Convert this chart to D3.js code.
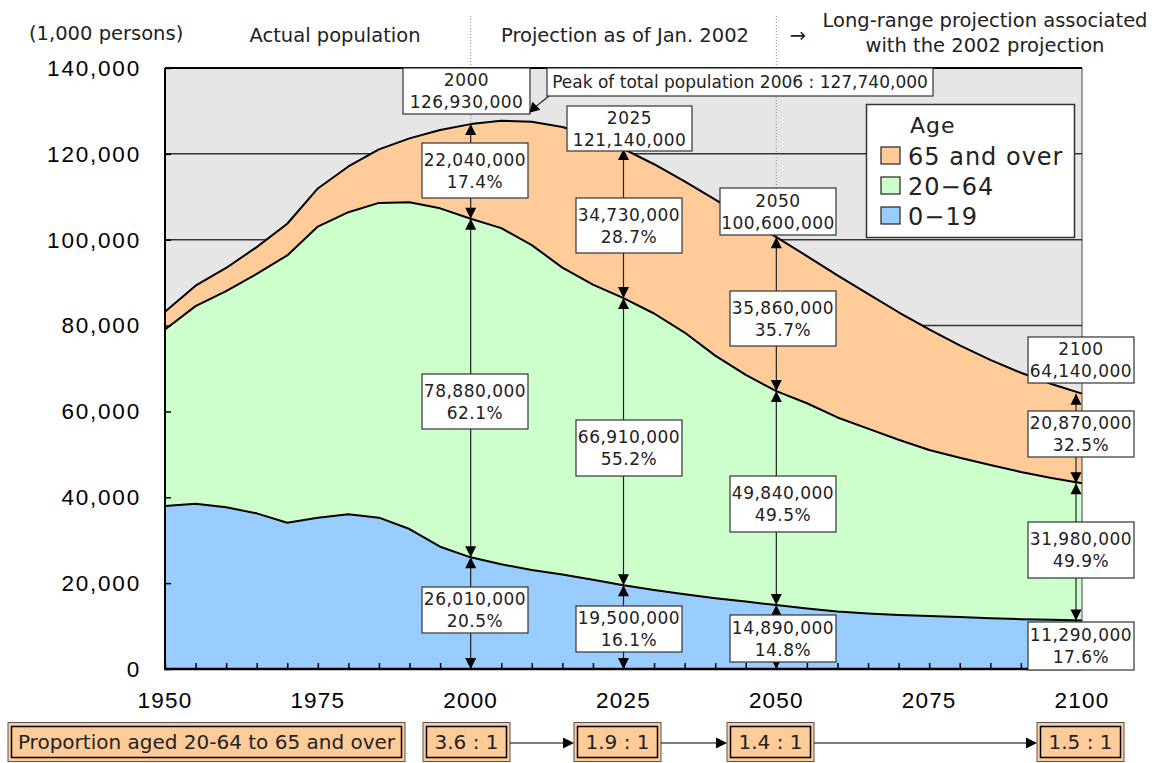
<!DOCTYPE html>
<html><head><meta charset="utf-8">
<script src="https://cdn.jsdelivr.net/npm/d3@7/dist/d3.min.js"></script>
<style>
html,body{margin:0;padding:0;background:#fff;}
svg{display:block;}
text{font-family:"DejaVu Sans",sans-serif;fill:#222;}
.tick-label{font-family:"Liberation Sans",Arial,sans-serif;fill:#000;}
</style></head><body>
<svg id="chart" width="1154" height="763"></svg>
<script>
// Population of Japan by age group, thousands of persons
const years = [1950,1955,1960,1965,1970,1975,1980,1985,1990,1995,2000,2005,2010,2015,2020,2025,
  2030,2035,2040,2045,2050,2055,2060,2065,2070,2075,2080,2085,2090,2095,2100];
const age0to19 = [37970,38510,37660,36260,34080,35250,36030,35250,32610,28490,26010,24390,23060,22000,20800,19500,
  18400,17400,16500,15700,14890,14100,13400,12950,12600,12350,12100,11850,11600,11450,11290];
const age20to64 = [41120,46020,50360,55780,62250,67820,70380,73330,76100,78820,78880,78310,75680,71490,68750,66910,
  64410,60970,56510,52800,49840,47800,45200,43050,40800,38650,37100,35650,34300,33050,31980];
const age65plus = [4110,4750,5400,6240,7390,8870,10650,12470,14900,18260,22040,25010,28740,32770,34560,34730,
  34770,35240,36330,36460,35860,34300,33100,31400,29700,28100,26200,24500,23100,21900,20870];

// Highlighted years with their published totals and shares (%)
const markYears = [2000, 2025, 2050, 2100];
const markTotals = [126930, 121140, 100600, 64140];
const share65 = [17.4, 28.7, 35.7, 32.5];
const share20to64 = [62.1, 55.2, 49.5, 49.9];
const share0to19 = [20.5, 16.1, 14.8, 17.6];
const peakYear = 2006, peakTotal = 127740;

const yTicks = [0,20000,40000,60000,80000,100000,120000,140000];
const xLabelYears = [1950,1975,2000,2025,2050,2075,2100];
const seriesKeys = ["a0", "a1", "a2"];
const seriesNames = ["0\u221219", "20\u221264", "65 and over"];
const seriesColors = ["#99ccff", "#ccffcc", "#ffcc99"];

const rows = years.map((yr, i) => ({year: yr, a0: age0to19[i], a1: age20to64[i], a2: age65plus[i]}));

const svg = d3.select("#chart");
const x = d3.scaleLinear().domain([1950, 2100]).range([165, 1082]);
const y = d3.scaleLinear().domain([0, 140000]).range([669, 68]);
const fmt = d3.format(",");

// plot background
svg.append("rect").attr("x", x(1950)).attr("y", y(140000))
  .attr("width", x(2100) - x(1950)).attr("height", y(0) - y(140000)).attr("fill", "#e6e6e6");

// gridlines
svg.append("g").selectAll("line").data(yTicks.slice(1, -1)).join("line")
  .attr("x1", x(1950)).attr("x2", x(2100)).attr("y1", d => y(d)).attr("y2", d => y(d))
  .attr("stroke", "#333").attr("stroke-width", 1.5);

// period separators
svg.append("g").selectAll("line").data([2000, 2050]).join("line")
  .attr("x1", d => x(d)).attr("x2", d => x(d)).attr("y1", 16).attr("y2", y(0))
  .attr("stroke", "#888").attr("stroke-width", 1).attr("stroke-dasharray", "1,2");

// stacked areas
const stacked = d3.stack().keys(seriesKeys)(rows);
const area = d3.area().x(d => x(d.data.year)).y0(d => y(d[0])).y1(d => y(d[1]));
const topLine = d3.line().x(d => x(d.data.year)).y(d => y(d[1]));
svg.append("g").selectAll("path").data(stacked).join("path")
  .attr("d", area).attr("fill", (d, i) => seriesColors[i]);
svg.append("g").selectAll("path").data(stacked).join("path")
  .attr("d", topLine).attr("fill", "none").attr("stroke", "#000").attr("stroke-width", 2)
  .attr("stroke-linejoin", "round");

// axes (ticks pointing inward)
const yAxis = d3.axisRight(y).tickValues(yTicks).tickSize(6).tickFormat("");
svg.append("g").attr("transform", `translate(${x(1950)},0)`).call(yAxis)
  .call(g => g.select(".domain").remove())
  .call(g => g.selectAll("line").attr("stroke", "#000").attr("stroke-width", 1.5));
const xAxis = d3.axisTop(x).tickValues(years).tickSize(6).tickFormat("");
svg.append("g").attr("transform", `translate(0,${y(0)})`).call(xAxis)
  .call(g => g.select(".domain").remove())
  .call(g => g.selectAll("line").attr("stroke", "#000").attr("stroke-width", 1.5));

// frame
svg.append("line").attr("x1", x(2100)).attr("x2", x(2100)).attr("y1", y(140000)).attr("y2", y(0))
  .attr("stroke", "#444").attr("stroke-width", 1);
svg.append("line").attr("x1", x(1950)).attr("x2", x(2100)).attr("y1", y(140000)).attr("y2", y(140000))
  .attr("stroke", "#000").attr("stroke-width", 2);
svg.append("line").attr("x1", x(1950)).attr("x2", x(1950)).attr("y1", y(140000)).attr("y2", y(0))
  .attr("stroke", "#000").attr("stroke-width", 2);
svg.append("line").attr("x1", x(1950) - 1).attr("x2", x(2100)).attr("y1", y(0)).attr("y2", y(0))
  .attr("stroke", "#000").attr("stroke-width", 2.5);

// tick labels
svg.append("g").selectAll("text").data(yTicks).join("text").attr("class", "tick-label")
  .attr("x", 141).attr("y", d => y(d)).attr("dy", "0.35em").attr("text-anchor", "end")
  .attr("font-size", 22.5).attr("letter-spacing", 1.8).text(d => fmt(d));
svg.append("g").selectAll("text").data(xLabelYears).join("text").attr("class", "tick-label")
  .attr("x", d => x(d)).attr("y", 700).attr("dy", "0.35em").attr("text-anchor", "middle")
  .attr("font-size", 22.5).attr("letter-spacing", 1.2).text(d => d);

// header texts
const header = svg.append("g").attr("font-size", 19.5);
header.append("text").attr("x", 29).attr("y", 33).attr("dy", "0.35em").text("(1,000 persons)");
header.append("text").attr("x", 335).attr("y", 35).attr("dy", "0.35em").attr("text-anchor", "middle").text("Actual population");
header.append("text").attr("x", 625).attr("y", 35).attr("dy", "0.35em").attr("text-anchor", "middle").text("Projection as of Jan. 2002");
header.append("text").attr("x", 798).attr("y", 35).attr("dy", "0.35em").attr("text-anchor", "middle").text("\u2192");
header.append("text").attr("x", 985).attr("y", 20).attr("dy", "0.35em").attr("text-anchor", "middle").text("Long-range projection associated");
header.append("text").attr("x", 985).attr("y", 45).attr("dy", "0.35em").attr("text-anchor", "middle").text("with the 2002 projection");

// double-headed arrows at the highlighted years
function head(g, hx, hy, dir) {
  // dir: -1 points up, +1 points down
  g.append("path").attr("d", `M${hx},${hy} L${hx - 5.5},${hy - dir * 11} L${hx + 5.5},${hy - dir * 11} Z`)
    .attr("fill", "#000");
}
const arrowShift = [0, 0, 0, -6];
const arrows = svg.append("g");
markYears.forEach((yr, k) => {
  const i = years.indexOf(yr);
  const b1 = age0to19[i], b2 = b1 + age20to64[i], b3 = b2 + age65plus[i];
  const ax = x(yr) + arrowShift[k];
  arrows.append("line").attr("x1", ax).attr("x2", ax).attr("y1", y(b3)).attr("y2", y(0))
    .attr("stroke", "#222").attr("stroke-width", 1.2);
  head(arrows, ax, y(b3), -1);
  head(arrows, ax, y(b2), 1);
  head(arrows, ax, y(b2), -1);
  head(arrows, ax, y(b1), 1);
  head(arrows, ax, y(b1), -1);
  head(arrows, ax, y(0), 1);
});

// annotation boxes: [cx, cy, w, h] for total, 65+, 20-64, 0-19
const boxLayout = [
  [[466.5, 91, 127, 46], [475, 170.5, 106, 55], [475, 401.5, 106, 55], [475, 610, 106, 46]],
  [[629.5, 128.5, 125, 45], [629, 225.5, 106, 55], [629, 448, 106, 56], [629, 629, 106, 46]],
  [[778, 211.5, 116, 47], [783, 318.5, 106, 55], [783, 504, 106, 56], [783, 638.5, 106, 47]],
  [[1081, 360, 106, 46], [1081, 434, 106, 46], [1081, 550, 106, 56], [1081, 646, 106, 48]]
];
function textBox(g, b, lines, fs, ls) {
  const [cx, cy, w, h] = b;
  g.append("rect").attr("x", cx - w / 2).attr("y", cy - h / 2).attr("width", w).attr("height", h)
    .attr("fill", "#fff").attr("stroke", "#333").attr("stroke-width", 1.2);
  const gap = lines.length > 1 ? 22 : 0;
  lines.forEach((t, j) => {
    g.append("text").attr("x", cx).attr("y", cy + (j - (lines.length - 1) / 2) * gap)
      .attr("dy", "0.36em").attr("text-anchor", "middle").attr("font-size", fs)
      .attr("letter-spacing", ls).text(t);
  });
}
const boxes = svg.append("g");
markYears.forEach((yr, k) => {
  const i = years.indexOf(yr);
  textBox(boxes, boxLayout[k][0], [String(yr), fmt(markTotals[k] * 1000)], 17, 0.5);
  textBox(boxes, boxLayout[k][1], [fmt(age65plus[i] * 1000), share65[k].toFixed(1) + "%"], 17, 0.5);
  textBox(boxes, boxLayout[k][2], [fmt(age20to64[i] * 1000), share20to64[k].toFixed(1) + "%"], 17, 0.5);
  textBox(boxes, boxLayout[k][3], [fmt(age0to19[i] * 1000), share0to19[k].toFixed(1) + "%"], 17, 0.5);
});

// peak callout
textBox(boxes, [740, 82, 386, 28], [`Peak of total population ${peakYear} : ${fmt(peakTotal * 1000)}`], 17, 0);
const px = x(peakYear) + 22, py = y(peakTotal) - 8;
boxes.append("line").attr("x1", 549).attr("y1", 96).attr("x2", px + 5).attr("y2", py - 5)
  .attr("stroke", "#222").attr("stroke-width", 1.2);
boxes.append("path").attr("d", `M${px},${py} L${px + 3},${py - 11} L${px + 11},${py - 3} Z`).attr("fill", "#000");

// legend
const lg = svg.append("g");
lg.append("rect").attr("x", 866.5).attr("y", 104.5).attr("width", 208).attr("height", 133)
  .attr("fill", "#fff").attr("stroke", "#333").attr("stroke-width", 1.5);
lg.append("text").attr("x", 910).attr("y", 133).attr("font-size", 22).attr("letter-spacing", 1).attr("fill", "#000").text("Age");
[2, 1, 0].forEach((s, r) => {
  const ry = 147 + r * 30;
  lg.append("rect").attr("x", 881).attr("y", ry).attr("width", 19).attr("height", 17)
    .attr("fill", seriesColors[s]).attr("stroke", "#222").attr("stroke-width", 1.2);
  lg.append("text").attr("x", 908).attr("y", ry + 17.5).attr("font-size", 24).attr("letter-spacing", 1)
    .attr("fill", "#000").text(seriesNames[s]);
});

// working-age to elderly ratio row
const ratioCx = [466.5, 617.5, 770.5, 1080.5];
function ratioBox(cx, w, label, fs) {
  const g = svg.append("g");
  g.append("rect").attr("x", cx - w / 2).attr("y", 722.5).attr("width", w).attr("height", 39)
    .attr("fill", "#ffcc99").attr("stroke", "#555").attr("stroke-width", 1);
  g.append("rect").attr("x", cx - w / 2 + 3.5).attr("y", 726.5).attr("width", w - 7).attr("height", 31)
    .attr("fill", "#ffcc99").attr("stroke", "#000").attr("stroke-width", 1.5);
  g.append("text").attr("x", cx).attr("y", 742).attr("dy", "0.36em").attr("text-anchor", "middle")
    .attr("font-size", fs).text(label);
}
ratioBox(206.5, 397, "Proportion aged 20-64 to 65 and over", 20);
markYears.forEach((yr, k) => {
  const i = years.indexOf(yr);
  ratioBox(ratioCx[k], 87, d3.format(".1f")(age20to64[i] / age65plus[i]) + " : 1", 20);
});
for (let k = 0; k < ratioCx.length - 1; k++) {
  const x1 = ratioCx[k] + 43.5, x2 = ratioCx[k + 1] - 43.5;
  svg.append("line").attr("x1", x1).attr("x2", x2 - 8).attr("y1", 743).attr("y2", 743)
    .attr("stroke", "#000").attr("stroke-width", 1.2);
  svg.append("path").attr("d", `M${x2},743 L${x2 - 11},737.5 L${x2 - 11},748.5 Z`).attr("fill", "#000");
}
</script>
</body></html>
